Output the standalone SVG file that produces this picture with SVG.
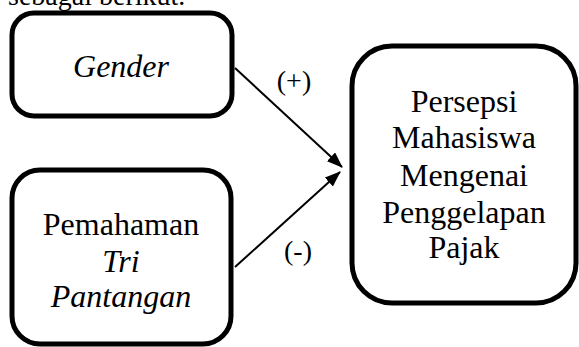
<svg xmlns="http://www.w3.org/2000/svg" width="579" height="347" viewBox="0 0 579 347">
<style>
.box{fill:#fff;stroke:#000;stroke-width:5}
.c{stroke:#000;stroke-width:2;fill:none}
</style>
<defs>
<marker id="ah" markerUnits="userSpaceOnUse" markerWidth="16" markerHeight="12" refX="15" refY="6" orient="auto">
<path d="M0,0 L16,6 L0,12 Z" fill="#000"/>
</marker>
</defs>
<text x="8" y="5" font-family="Liberation Serif, serif" font-size="28" fill="#000">sebagai berikut.</text>
<g id="gender">
<rect class="box" x="12" y="13" width="220" height="103" rx="22"/>
<text x="121" y="77" font-family="Liberation Serif, serif" font-size="32" font-style="italic" text-anchor="middle" fill="#000">Gender</text>
</g>
<g id="pemahaman" font-family="Liberation Serif, serif" font-size="32" text-anchor="middle" fill="#000">
<rect class="box" x="12" y="170" width="219" height="174" rx="28"/>
<text x="121" y="235">Pemahaman</text>
<text x="121" y="272" font-style="italic">Tri</text>
<text x="121" y="307" font-style="italic">Pantangan</text>
</g>
<g id="persepsi" font-family="Liberation Serif, serif" font-size="32" text-anchor="middle" fill="#000">
<rect class="box" x="352" y="46" width="224" height="257" rx="40"/>
<text x="464" y="112">Persepsi</text>
<text x="464" y="148">Mahasiswa</text>
<text x="464" y="186">Mengenai</text>
<text x="464" y="223">Penggelapan</text>
<text x="464" y="258">Pajak</text>
</g>
<g id="connectors" font-family="Liberation Serif, serif" font-size="28" text-anchor="middle" fill="#000">
<line class="c" x1="235" y1="68" x2="342" y2="167" marker-end="url(#ah)"/>
<line class="c" x1="235" y1="267" x2="340" y2="172" marker-end="url(#ah)"/>
<text x="294" y="90">(+)</text>
<text x="298" y="260">(-)</text>
</g>
</svg>
